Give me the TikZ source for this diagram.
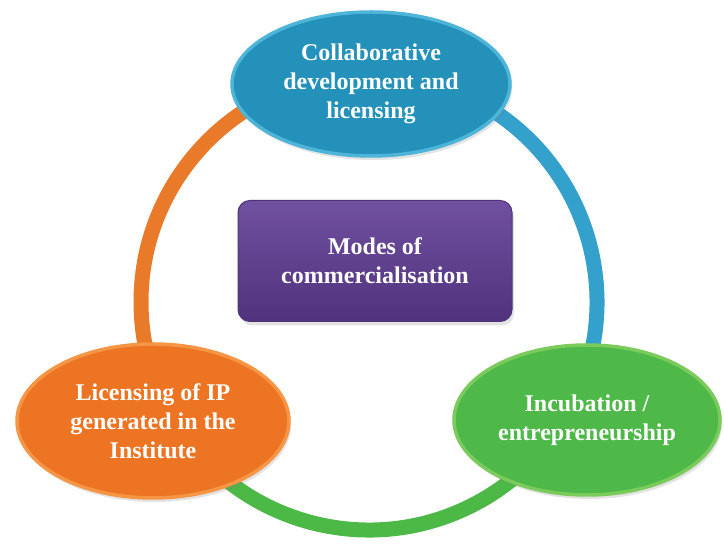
\documentclass[tikz,border=0pt]{standalone}
\usepackage{fontspec}
\setmainfont{Liberation Serif}
\usetikzlibrary{shapes.geometric,shadows,backgrounds}
\definecolor{fillblue}{RGB}{36,145,186}
\definecolor{rimblue}{RGB}{78,180,216}
\definecolor{fillorange}{RGB}{237,116,34}
\definecolor{rimorange}{RGB}{244,150,70}
\definecolor{fillgreen}{RGB}{78,184,72}
\definecolor{rimgreen}{RGB}{122,202,92}
\definecolor{ringblue}{RGB}{52,160,204}
\definecolor{ringorange}{RGB}{233,122,42}
\definecolor{ringgreen}{RGB}{76,184,70}
\definecolor{boxtop}{RGB}{112,80,160}
\definecolor{boxmid}{RGB}{96,62,142}
\definecolor{boxbottom}{RGB}{80,50,124}
\tikzset{
  bubble/.style={shape=ellipse, inner sep=0pt, align=center, text=white, line width=3.5pt,
    font=\bfseries\fontsize{24}{29}\selectfont,
    drop shadow={opacity=0.22, shadow xshift=2pt, shadow yshift=-4pt}},
  ringarc/.style={line width=15pt}
}
\begin{document}
\begin{tikzpicture}[x=1pt, y=1pt]
\useasboundingbox (0,0) rectangle (724,549);
\coordinate (hub) at (369,247);
% the three modes
\node[bubble, fill=fillblue, draw=rimblue, minimum width=278pt, minimum height=144pt] (collab) at (371,465) {Collaborative\\development and\\licensing};
\node[bubble, fill=fillorange, draw=rimorange, minimum width=272pt, minimum height=154pt] (licence) at (153,128) {Licensing of IP\\generated in the\\Institute};
\node[bubble, fill=fillgreen, draw=rimgreen, minimum width=266pt, minimum height=150pt] (incub) at (587,129) {Incubation /\\entrepreneurship};
% centre box
\node[shape=rectangle, rounded corners=12pt, minimum width=274pt, minimum height=121pt, align=center, text=white,
  top color=boxtop, middle color=boxmid, bottom color=boxbottom, draw=boxbottom, line width=1pt,
  font=\bfseries\fontsize{24}{29}\selectfont,
  drop shadow={opacity=0.22, shadow xshift=2pt, shadow yshift=-4pt}] (modes) at (375,288) {Modes of\\commercialisation};
% ring behind the bubbles
\begin{scope}[on background layer]
\draw[ringarc, draw=ringorange] ([shift={(90:228)}]hub) arc[start angle=90, end angle=208, radius=228];
\draw[ringarc, draw=ringgreen] ([shift={(208:228)}]hub) arc[start angle=208, end angle=332, radius=228];
\draw[ringarc, draw=ringblue] ([shift={(332:228)}]hub) arc[start angle=332, end angle=450, radius=228];
\end{scope}
\end{tikzpicture}
\end{document}
